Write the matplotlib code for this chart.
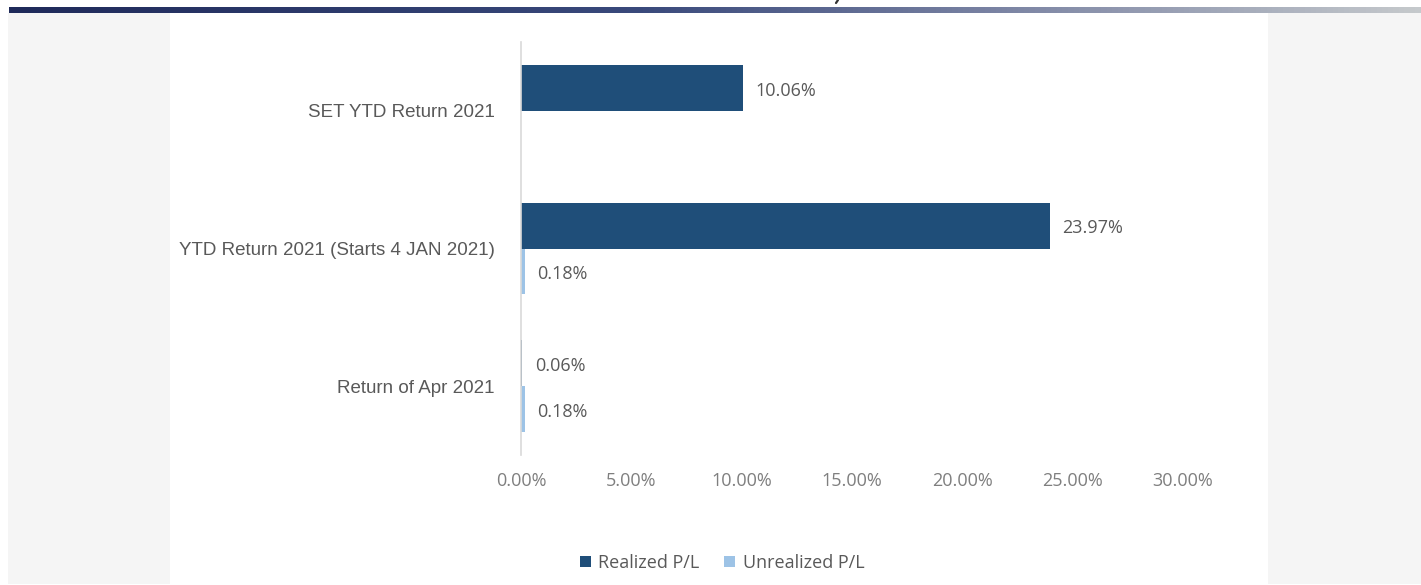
import matplotlib
matplotlib.use("Agg")
import matplotlib.pyplot as plt
import numpy as np
from matplotlib.colors import LinearSegmentedColormap
from matplotlib.patches import Rectangle

categories = ["SET YTD Return 2021", "YTD Return 2021 (Starts 4 JAN 2021)", "Return of Apr 2021"]
realized = [10.06, 23.97, 0.06]
unrealized = [None, 0.18, 0.18]
xticks = [0, 5, 10, 15, 20, 25, 30]
series_names = ["Realized P/L", "Unrealized P/L"]

W, H = 1421, 585
DARK = "#1f4e79"
LIGHT = "#9dc3e6"

fig = plt.figure(figsize=(W / 100, H / 100), dpi=100, facecolor="white")

# page background: grey margins, white card, gradient header strip
bg = fig.add_axes([0, 0, 1, 1], zorder=-10)
bg.set_xlim(0, W)
bg.set_ylim(H, 0)
bg.axis("off")
bg.add_patch(Rectangle((8, 13), W - 8, H - 14, color="#f5f5f5", lw=0))
bg.add_patch(Rectangle((170, 13), 1268 - 170, H - 13, color="white", lw=0))
cmap = LinearSegmentedColormap.from_list(
    "hdr", [(0, "#1f2a5a"), (0.45, "#3a4a7c"), (0.7, "#7a83a3"), (1, "#c5c9cc")])
bg.imshow(np.linspace(0, 1, 256)[None, :], cmap=cmap, aspect="auto",
          extent=(9, W, 13, 7), zorder=1)
# tail of a clipped heading glyph above the strip
bg.plot([838, 836], [0, 3], color="#333333", lw=1.6, solid_capstyle="round")

ax = fig.add_axes([521 / W, 1 - 455 / H, (1183 - 521) / W, (455 - 42) / H])
ax.set_facecolor("none")

h = 0.334
y = np.arange(len(categories))
real_vals = [v if v is not None else 0 for v in realized]
unreal_vals = [v if v is not None else 0 for v in unrealized]
ax.barh(y - h / 2, real_vals, height=h, color=DARK, label=series_names[0])
ax.barh(y + h / 2, unreal_vals, height=h, color=LIGHT, label=series_names[1])

label_kw = dict(textcoords="offset points", xytext=(9, -2), va="center", ha="left",
                fontsize=13, color="#595959", family="Open Sans")
for i, v in enumerate(realized):
    if v is not None:
        ax.annotate(f"{v:.2f}%", (v, i - h / 2), **label_kw)
for i, v in enumerate(unrealized):
    if v is not None:
        ax.annotate(f"{v:.2f}%", (v, i + h / 2), **label_kw)

ax.set_xlim(0, 30)
ax.set_ylim(2.5, -0.5)
ax.set_xticks(xticks)
ax.set_xticklabels([f"{t:.2f}%" for t in xticks], family="Open Sans", fontsize=13,
                   color="#7f7f7f")
ax.set_yticks(y)
ax.set_yticklabels(categories, family="Liberation Sans", fontsize=13.5, color="#595959")
ax.tick_params(axis="x", length=0, pad=12)
ax.tick_params(axis="y", length=0, pad=19)
for side in ["top", "right", "bottom"]:
    ax.spines[side].set_visible(False)
ax.spines["left"].set_color("#d9d9d9")
ax.spines["left"].set_linewidth(1.2)

leg = fig.legend(loc="center", bbox_to_anchor=(722 / W, 1 - 563 / H), ncol=2,
                 frameon=False, handlelength=0.6, handleheight=0.6, handletextpad=0.4,
                 columnspacing=1.4, prop={"family": "Open Sans", "size": 13})
for t in leg.get_texts():
    t.set_color("#595959")

fig.savefig("out.png", dpi=100, facecolor=fig.get_facecolor())
